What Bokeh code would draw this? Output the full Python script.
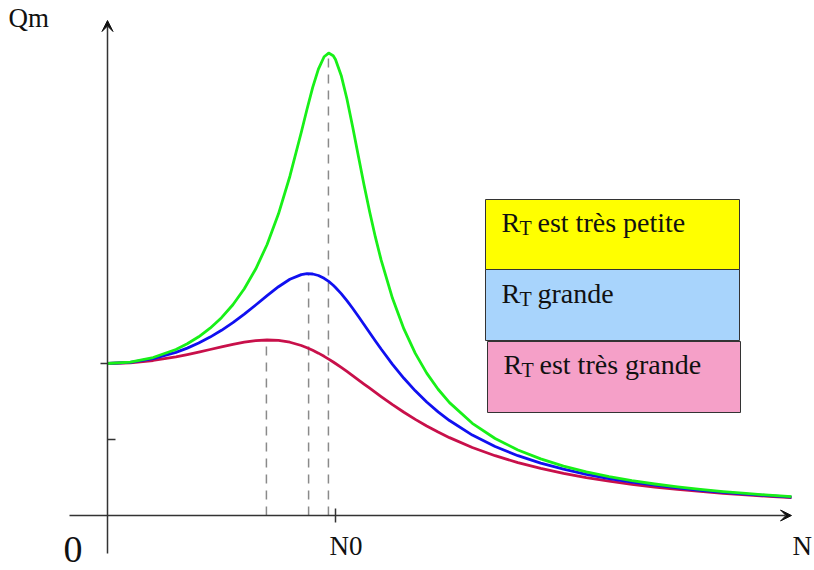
from bokeh.plotting import figure
from bokeh.models import Range1d, Arrow, VeeHead
from bokeh.core.properties import value
from bokeh.embed import file_html
from bokeh.resources import INLINE

# ---- data (N in units of N0, Qm in units of Qm(0)) ----
N = [0.0, 0.1, 0.2, 0.3, 0.35, 0.4, 0.45, 0.5, 0.55, 0.6, 0.65, 0.7, 0.75, 0.8, 0.85,
     0.875, 0.9, 0.925, 0.95, 0.97, 0.99, 1.0, 1.025, 1.05, 1.075, 1.1, 1.125, 1.15,
     1.175, 1.2, 1.25, 1.3, 1.35, 1.4, 1.45, 1.5, 1.6, 1.7, 1.8, 1.9, 2.0, 2.1, 2.2,
     2.3, 2.4, 2.5, 2.6, 2.7, 2.8, 2.9, 3.0]
q_petite = [1.0, 1.0095, 1.0392, 1.0923, 1.1297, 1.1758, 1.2323, 1.3016, 1.3866, 1.4914,
            1.6213, 1.7830, 1.9846, 2.2321, 2.5214, 2.6726, 2.8161, 2.9372, 3.0182, 3.0424,
            3.0248, 3.0, 2.8952, 2.7420, 2.5597, 2.3666, 2.1760, 1.9962, 1.8310, 1.6817,
            1.4286, 1.2273, 1.0666, 0.9368, 0.8307, 0.7428, 0.6066, 0.5068, 0.4312, 0.3723,
            0.3254, 0.2873, 0.2558, 0.2295, 0.2072, 0.1881, 0.1717, 0.1574, 0.1449, 0.1338,
            0.1240]
q_grande = [1.0, 1.0078, 1.0318, 1.0733, 1.1013, 1.1347, 1.1736, 1.2184, 1.2690, 1.3250,
            1.3850, 1.4466, 1.5051, 1.5541, 1.5849, 1.5907, 1.5889, 1.5789, 1.5606, 1.5400,
            1.5145, 1.5, 1.4594, 1.4135, 1.3636, 1.3110, 1.2568, 1.2023, 1.1482, 1.0953,
            0.9946, 0.9027, 0.8202, 0.7469, 0.6820, 0.6247, 0.5292, 0.4538, 0.3935, 0.3447,
            0.3046, 0.2713, 0.2433, 0.2195, 0.1991, 0.1815, 0.1662, 0.1528, 0.1410, 0.1306,
            0.1213]
q_tres_grande = [1.0, 1.0050, 1.0198, 1.0436, 1.0585, 1.0748, 1.0921, 1.1094, 1.1258, 1.1399,
                 1.1501, 1.1546, 1.1517, 1.1399, 1.1184, 1.1039, 1.0872, 1.0681, 1.0471, 1.0290,
                 1.0099, 1.0, 0.9744, 0.9479, 0.9206, 0.8930, 0.8651, 0.8373, 0.8096, 0.7824,
                 0.7295, 0.6795, 0.6326, 0.5891, 0.5490, 0.5121, 0.4475, 0.3934, 0.3480, 0.3098,
                 0.2774, 0.2497, 0.2260, 0.2054, 0.1876, 0.1720, 0.1582, 0.1461, 0.1353, 0.1257,
                 0.1170]
peak_N = [0.969, 0.882, 0.697]
peak_Q = [3.05, 1.59, 1.155]
series_colors = ["#18f018", "#1010f0", "#c8104a"]
legend_labels = ["est très petite", "grande", "est très grande"]
legend_fills = ["#ffff00", "#a8d4fc", "#f5a0c8"]
y_ticks = [0.5, 1.0]
x_ticks = [1.0]
x_tick_labels = ["N0"]

# ---- pixel helpers (reference layout) ----
X0, Y0, SX, SY = 107.0, 515.0, 228.0, 152.0
def dx(px): return (px - X0) / SX
def dy(py): return (Y0 - py) / SY
def lx(npx): return npx / SX
def ly(npx): return npx / SY
def ty(py, size): return dy(py - 0.37 * size)   # text baseline compensation

W, H = 814, 570
p = figure(width=W, height=H, output_backend="svg", toolbar_location=None,
           x_range=Range1d(dx(0), dx(W)), y_range=Range1d(dy(H), dy(0)),
           min_border=0)
p.axis.visible = False
p.grid.visible = False
p.outline_line_color = None
p.background_fill_color = "white"

# dashed verticals at peaks
for xn, yq in zip(peak_N, peak_Q):
    p.segment(x0=[xn], y0=[0], x1=[xn], y1=[yq], line_color="#8a8a8a",
              line_width=1.5, line_dash="9 7")

# curves (red first, then blue, green on top)
for qs, col in [(q_tres_grande, series_colors[2]), (q_grande, series_colors[1]),
                (q_petite, series_colors[0])]:
    p.line(N, qs, line_color=col, line_width=2.8, line_join="round")

# axes with arrows
axis_col = "#333333"
p.add_layout(Arrow(end=VeeHead(size=11, fill_color="#111111", line_color="#111111"),
                   x_start=dx(69), y_start=0, x_end=dx(791), y_end=0,
                   line_color=axis_col, line_width=1.5))
p.add_layout(Arrow(end=VeeHead(size=11, fill_color="#111111", line_color="#111111"),
                   x_start=0, y_start=dy(553), x_end=0, y_end=dy(20),
                   line_color=axis_col, line_width=1.5))

# ticks
p.segment(x0=[-lx(7)], y0=[y_ticks[1]], x1=[0], y1=[y_ticks[1]], line_color=axis_col, line_width=1.5)
p.segment(x0=[0], y0=[y_ticks[0]], x1=[lx(8)], y1=[y_ticks[0]], line_color=axis_col, line_width=1.5)
p.segment(x0=[x_ticks[0]], y0=[-ly(7)], x1=[x_ticks[0]], y1=[ly(7)], line_color=axis_col, line_width=1.5)

serif = value("Liberation Serif")
# labels
p.text(x=[dx(8)], y=[ty(27, 27)], text=["Qm"], text_font=serif, text_font_size="27px",
       text_color="#111111", text_baseline="alphabetic", text_align="left")
p.text(x=[dx(63)], y=[ty(563, 38)], text=["0"], text_font=serif, text_font_size="38px",
       text_color="#111111", text_baseline="alphabetic", text_align="left")
p.text(x=[x_ticks[0] - lx(6)], y=[ty(555, 27)], text=x_tick_labels, text_font=serif,
       text_font_size="27px", text_color="#111111", text_baseline="alphabetic", text_align="left")
p.text(x=[dx(792)], y=[ty(555, 27)], text=["N"], text_font=serif, text_font_size="27px",
       text_color="#111111", text_baseline="alphabetic", text_align="left")

# legend boxes
boxes = [(485, 739, 199, 269), (485, 739, 269, 340), (487, 740, 341, 412)]
baselines = [232, 303, 374]
for (l, r, t, b), fill, lab, bl in zip(boxes, legend_fills, legend_labels, baselines):
    p.quad(left=[dx(l)], right=[dx(r)], top=[dy(t)], bottom=[dy(b)], fill_color=fill,
           line_color="#333333", line_width=1)
    x_txt = l + 16
    p.text(x=[dx(x_txt)], y=[ty(bl, 28)], text=["R"], text_font=serif, text_font_size="28px",
           text_color="#111111", text_baseline="alphabetic")
    p.text(x=[dx(x_txt + 18)], y=[ty(bl + 3, 20)], text=["T"], text_font=serif, text_font_size="20px",
           text_color="#111111", text_baseline="alphabetic")
    p.text(x=[dx(x_txt + 36)], y=[ty(bl, 28)], text=[lab], text_font=serif, text_font_size="28px",
           text_color="#111111", text_baseline="alphabetic")

open("out.html", "w").write(file_html(p, INLINE))
